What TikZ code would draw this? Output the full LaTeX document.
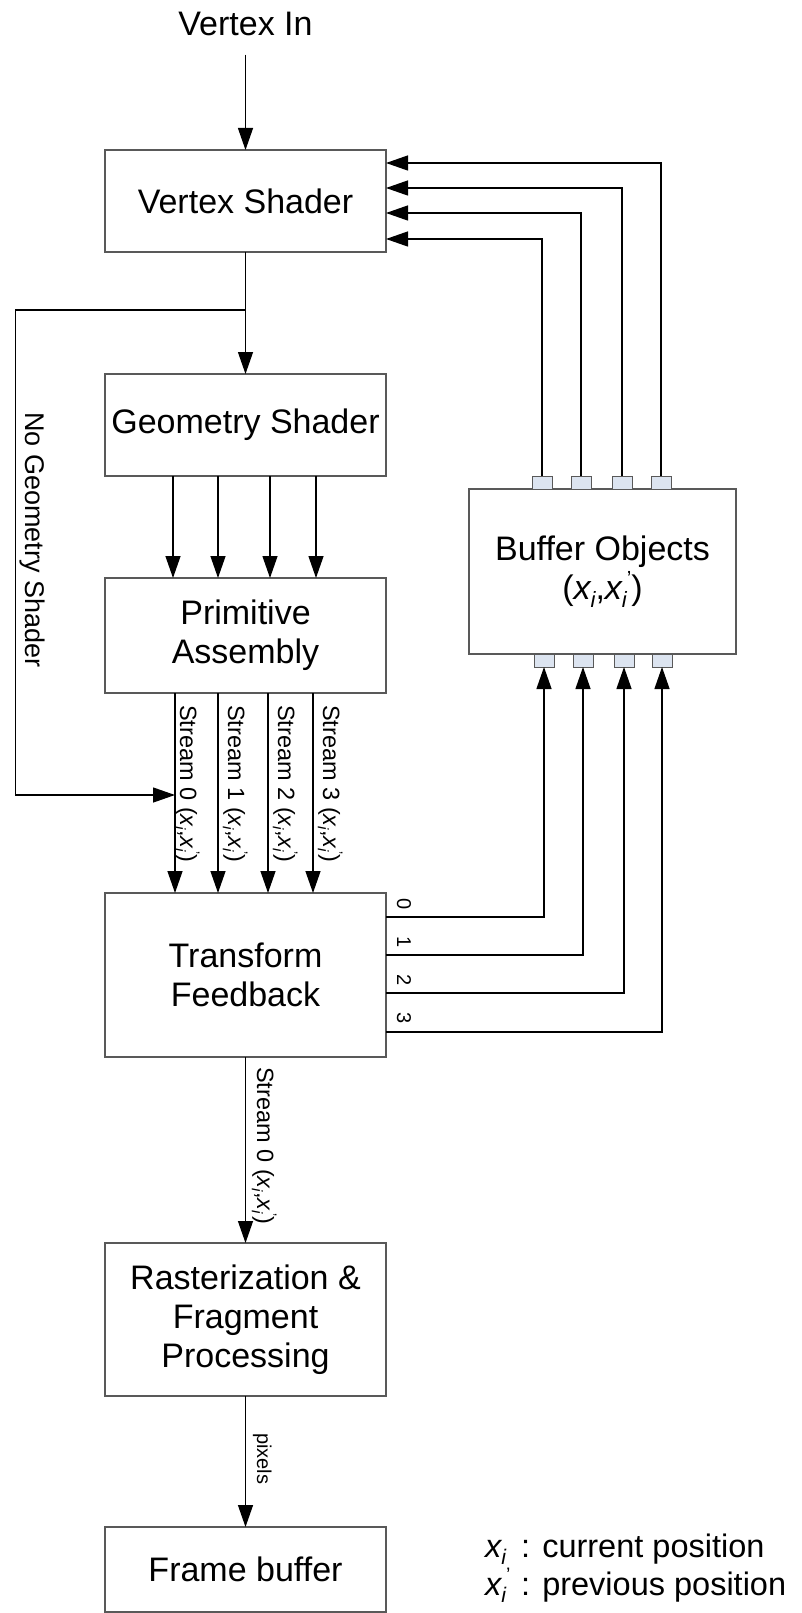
\documentclass[tikz,border=0pt]{standalone}
\usepackage{fontspec}
\setmainfont{Liberation Sans}
\usetikzlibrary{arrows.meta}
\definecolor{edgegray}{HTML}{595959}
\definecolor{portfill}{HTML}{DCE4F0}
% current and previous position symbols
\newcommand\subidx{\raisebox{-0.22em}{\scalebox{0.65}{\itshape i}}}
\newcommand\posx{{\itshape x}\subidx}
\newcommand\posxp{{\itshape x}\subidx\raisebox{0.42em}{\scalebox{0.6}{’}}}
\tikzset{
  box/.style={draw=edgegray, line width=1.3pt, rectangle, inner sep=0pt, outer sep=0pt,
    minimum width=281pt, align=center, font=\fontsize{34}{39}\selectfont},
  arr/.style={line width=1.3pt, -{Triangle[length=22pt,width=15pt]}},
  port/.style={draw=edgegray, fill=portfill, line width=1pt, inner sep=0pt, outer sep=0pt,
    minimum width=20pt, minimum height=13pt},
  slabel/.style={rotate=-90, anchor=base west, inner sep=0pt, font=\fontsize{23.5}{28}\selectfont},
  dlabel/.style={rotate=-90, anchor=base west, inner sep=0pt, font=\fontsize{20}{24}\selectfont},
  big/.style={inner sep=0pt, font=\fontsize{34}{39}\selectfont},
  legend/.style={inner sep=0pt, anchor=base west, font=\fontsize{32.5}{38}\selectfont},
}
\begin{document}
\begin{tikzpicture}[x=1pt,y=-1pt]
\useasboundingbox (0,0) rectangle (801,1613);

% pipeline stages
\node[box, minimum height=102pt] (vs) at (245.5,201) {Vertex Shader};
\node[box, minimum height=102pt] (gs) at (245.5,425) {Geometry Shader};
\node[box, minimum height=115pt] (pa) at (245.5,635.5) {Primitive\\Assembly};
\node[box, minimum height=164pt] (tf) at (245.5,975) {Transform\\Feedback};
\node[box, minimum height=153pt] (rf) at (245.5,1319.5) {Rasterization \&\\Fragment\\Processing};
\node[box, minimum height=85pt] (fb) at (245.5,1569.5) {Frame buffer};
\node[box, minimum width=267pt, minimum height=165pt] (bo) at (602.5,571.5) {Buffer Objects\\(\posx,\posxp)};

% buffer binding ports
\node[port] (bt0) at (542,482.5) {};
\node[port] (bt1) at (581,482.5) {};
\node[port] (bt2) at (622,482.5) {};
\node[port] (bt3) at (661,482.5) {};
\node[port] (bb0) at (544,660.5) {};
\node[port] (bb1) at (583,660.5) {};
\node[port] (bb2) at (624,660.5) {};
\node[port] (bb3) at (662,660.5) {};

% input
\node[big, anchor=base] (vin) at (245.5,36) {Vertex In};
\draw[arr, shorten <=18pt] (vin.south) -- (vs.north);

% vertex shader to geometry shader, with bypass
\coordinate (ysplit) at (0,310);
\coordinate (split) at (vs.south |- ysplit);
\coordinate (bend1) at (15.7,310);
\coordinate (bend2) at (15.7,795);
\coordinate (join) at (175,795);
\draw[arr] (vs.south) -- (gs.north);
\draw[arr] (split) -- (bend1) -- (bend2) -- (join);
\node[rotate=-90, anchor=base west, inner sep=0pt, font=\fontsize{27}{32}\selectfont] (ngs) at (25,412) {No Geometry Shader};

% geometry shader outputs
\coordinate (g0) at (173,0);
\coordinate (g1) at (218,0);
\coordinate (g2) at (270,0);
\coordinate (g3) at (316,0);
\foreach \c in {g0,g1,g2,g3}
  \draw[arr] (gs.south -| \c) -- (pa.north -| \c);

% vertex streams
\coordinate (s0) at (175,0);
\coordinate (s1) at (218,0);
\coordinate (s2) at (268,0);
\coordinate (s3) at (313,0);
\foreach \c in {s0,s1,s2,s3}
  \draw[arr] (pa.south -| \c) -- (tf.north -| \c);
\node[slabel] (sl0) at (180,705) {Stream 0 (\posx,\posxp)};
\node[slabel] (sl1) at (228,705) {Stream 1 (\posx,\posxp)};
\node[slabel] (sl2) at (278,705) {Stream 2 (\posx,\posxp)};
\node[slabel] (sl3) at (323,705) {Stream 3 (\posx,\posxp)};

% transform feedback into buffer objects
\coordinate (r0) at (0,917);
\coordinate (r1) at (0,955);
\coordinate (r2) at (0,993);
\coordinate (r3) at (0,1032);
\draw[arr] (tf.east |- r0) -| (bb0.south);
\draw[arr] (tf.east |- r1) -| (bb1.south);
\draw[arr] (tf.east |- r2) -| (bb2.south);
\draw[arr] (tf.east |- r3) -| (bb3.south);
\node[dlabel] (d0) at (397,898) {0};
\node[dlabel] (d1) at (397,936) {1};
\node[dlabel] (d2) at (397,974) {2};
\node[dlabel] (d3) at (397,1012) {3};

% buffer objects back into the vertex shader
\coordinate (h0) at (0,239);
\coordinate (h1) at (0,213);
\coordinate (h2) at (0,188);
\coordinate (h3) at (0,163);
\draw[arr] (bt0.north) |- (vs.east |- h0);
\draw[arr] (bt1.north) |- (vs.east |- h1);
\draw[arr] (bt2.north) |- (vs.east |- h2);
\draw[arr] (bt3.north) |- (vs.east |- h3);

% rasterization and output
\draw[arr] (tf.south) -- (rf.north);
\node[slabel] (sout) at (257,1067) {Stream 0 (\posx,\posxp)};
\draw[arr] (rf.south) -- (fb.north);
\node[dlabel] (px) at (257,1433) {pixels};

% legend
\node[legend] (k1) at (485,1557) {\posx};
\node[legend] (t1) at (521,1557) {: current position};
\node[legend] (k2) at (485,1595) {\posxp};
\node[legend] (t2) at (521,1595) {: previous position};
\end{tikzpicture}
\end{document}
